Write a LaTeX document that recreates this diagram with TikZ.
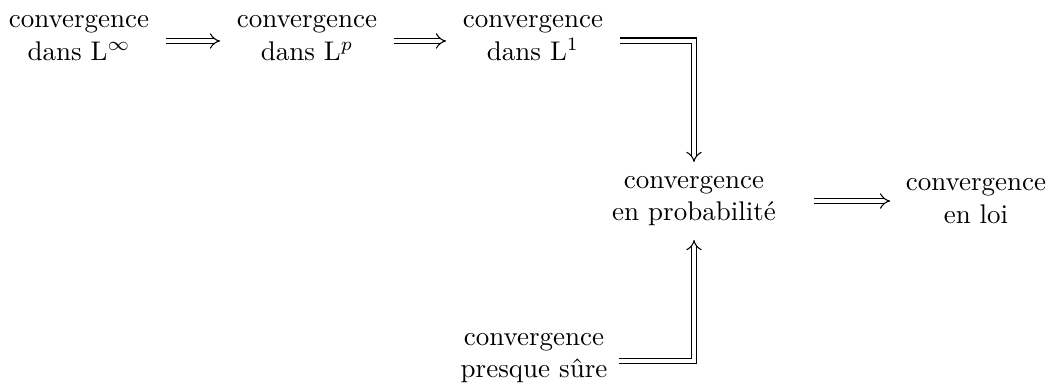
\documentclass[tikz,border=0pt]{standalone}
\usetikzlibrary{arrows.meta}
\begin{document}
\begin{tikzpicture}[x=0.3704pt,y=-0.3704pt,
  box/.style={align=center,inner sep=3pt},
  imp/.style={double,double distance=1.6pt,line width=0.4pt,-{Implies},shorten <=3pt,shorten >=3pt}]
\useasboundingbox (0,0) rectangle (1051,383);
\node[box] (linf) at (79,38) {convergence\\dans L$^\infty$};
\node[box] (lp) at (307,38) {convergence\\dans L$^p$};
\node[box] (l1) at (533,38) {convergence\\dans L$^1$};
\node[box] (prob) at (694,201) {convergence\\en probabilité};
\node[box] (loi) at (976,201) {convergence\\en loi};
\node[box] (ps) at (534,358) {convergence\\presque sûre};
\draw[imp] ([yshift=-1.1pt]linf.east) -- ([yshift=-1.1pt]lp.west);
\draw[imp] ([yshift=-1.1pt]lp.east) -- ([yshift=-1.1pt]l1.west);
\draw[imp,shorten >=2pt] ([yshift=-1pt]l1.east) -| (prob.north);
\draw[imp,shorten <=11pt,shorten >=2.6pt] (prob.east) -- (loi.west);
\draw[imp,shorten <=1pt,shorten >=2pt] ([yshift=-1.1pt]ps.east) -| (prob.south);
\end{tikzpicture}
\end{document}
